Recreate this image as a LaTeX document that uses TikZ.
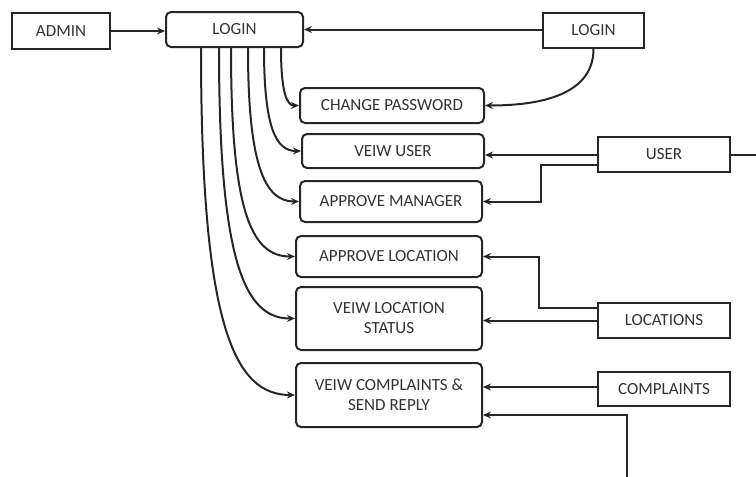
\documentclass[tikz,border=0pt]{standalone}
\usepackage{fontspec}
\setmainfont{Carlito}
\usetikzlibrary{arrows.meta,calc}
\begin{document}
\begin{tikzpicture}[x=1pt,y=1pt,
  every node/.style={font=\fontsize{17}{20}\selectfont\color{black!80}, align=center, inner sep=2pt},
  sq/.style={draw=black!85, line width=2pt, rectangle},
  rnd/.style={draw=black!85, line width=2pt, rectangle, rounded corners=5pt},
  conn/.style={draw=black!85, line width=2pt},
  arr/.style={conn, -{Stealth[length=8pt,width=7pt]}}]
\useasboundingbox (0,0) rectangle (756,-477);
\node[sq, minimum width=98pt, minimum height=36pt] (admin) at (61,-31) {ADMIN};
\node[rnd, minimum width=137pt, minimum height=35pt] (login) at (234.5,-29.5) {LOGIN};
\node[sq, minimum width=101pt, minimum height=35pt] (login2) at (593.5,-30.5) {LOGIN};
\node[rnd, minimum width=184pt, minimum height=35pt] (cp) at (392,-105.5) {CHANGE PASSWORD};
\node[rnd, minimum width=182pt, minimum height=34pt] (vu) at (393,-151) {VEIW USER};
\node[rnd, minimum width=182pt, minimum height=41pt] (am) at (391,-201.5) {APPROVE MANAGER};
\node[rnd, minimum width=186pt, minimum height=41pt] (al) at (389,-256.5) {APPROVE LOCATION};
\node[rnd, minimum width=186pt, minimum height=63pt] (vls) at (389,-318.5) {VEIW LOCATION\\STATUS};
\node[rnd, minimum width=186pt, minimum height=64pt] (vc) at (389,-395) {VEIW COMPLAINTS \&\\SEND REPLY};
\node[sq, minimum width=132pt, minimum height=35pt] (user) at (664,-154.5) {USER};
\node[sq, minimum width=132pt, minimum height=35pt] (locs) at (664,-320.5) {LOCATIONS};
\node[sq, minimum width=132pt, minimum height=34pt] (comp) at (664,-389) {COMPLAINTS};
\coordinate (uedge) at (756,-154.5);
\coordinate (bedge) at (627,-477);
% admin -> login, login2 -> login
\draw[arr] (admin.east) -- (admin.east -| login.west);
\draw[arr] ([yshift=1pt]login2.west) -- ([yshift=1pt]login2.west -| login.east);
\draw[arr] (login2.south) .. controls +(0,-50) and +(45,0) .. (cp.east);
% login fan-out
\draw[arr] ([xshift=116pt]login.south west) .. controls +(0,-45) and +(-12,0) .. (cp.west);
\draw[arr] ([xshift=99pt]login.south west) .. controls +(0,-80) and +(-25,0) .. (vu.west);
\draw[arr] ([xshift=83pt]login.south west) .. controls +(0,-115) and +(-35,0) .. (am.west);
\draw[arr] ([xshift=66pt]login.south west) .. controls +(0,-160) and +(-45,0) .. (al.west);
\draw[arr] ([xshift=54pt]login.south west) .. controls +(0,-215) and +(-50,0) .. (vls.west);
\draw[arr] ([xshift=36pt]login.south west) .. controls +(0,-280) and +(-60,0) .. (vc.west);
% user
\draw[arr] ([yshift=-0.5pt]user.west) -- ([yshift=-0.5pt]user.west -| vu.east);
\draw[arr] ([yshift=-10.5pt]user.west) -- ++(-56,0) |- (am.east);
\draw[conn] (user.east) -- (uedge);
% locations
\draw[arr] ([yshift=12.5pt]locs.west) -- ++(-58,0) |- (al.east);
\draw[arr] (locs.west) -- (locs.west -| vls.east);
% complaints
\draw[arr] ([yshift=2pt]comp.west) -- ([yshift=2pt]comp.west -| vc.east);
\draw[arr] (bedge) |- ([yshift=-20pt]vc.east);
\end{tikzpicture}
\end{document}
